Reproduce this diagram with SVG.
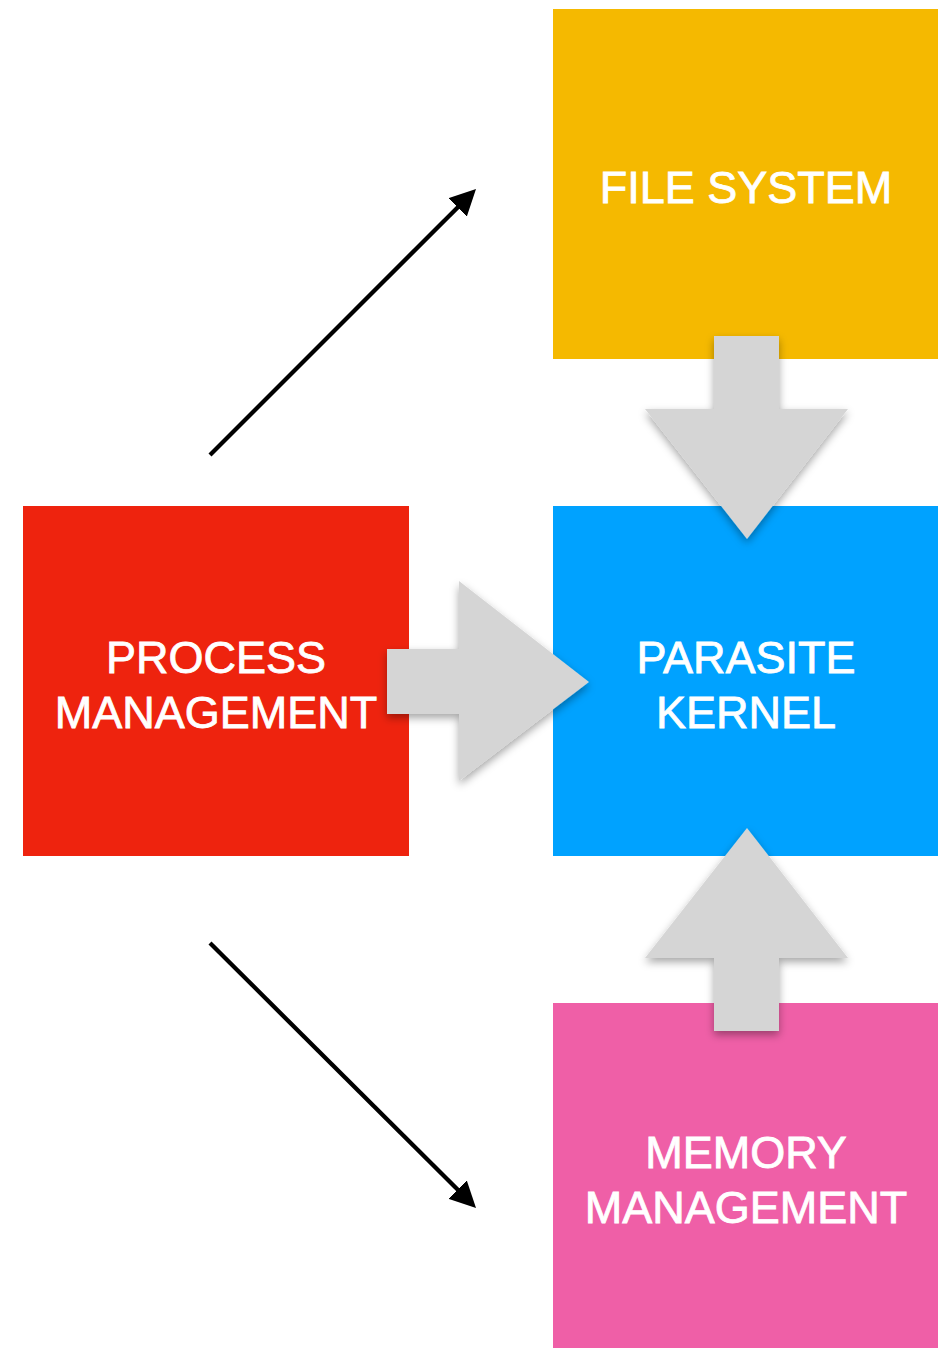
<svg xmlns="http://www.w3.org/2000/svg" width="938" height="1348" viewBox="0 0 938 1348">
  <style>
    .label { font-family: "Liberation Sans", Arial, Helvetica, sans-serif; font-size: 45px; fill: #FFFFFF; stroke: #FFFFFF; stroke-width: 0.8; text-anchor: middle; }
    .block { fill: #D5D5D5; filter: url(#shadow); }
    .line { stroke: #000000; stroke-width: 4.3; fill: none; marker-end: url(#head); }
  </style>
  <defs>
    <filter id="shadow" x="-20%" y="-20%" width="140%" height="150%">
      <feDropShadow dx="0" dy="4" stdDeviation="4" flood-color="#000000" flood-opacity="0.35"/>
    </filter>
    <marker id="head" viewBox="0 0 26 26" refX="12" refY="13" markerWidth="26" markerHeight="26" markerUnits="userSpaceOnUse" orient="auto">
      <path d="M0,0 L26,13 L0,26 Z" fill="#000000"/>
    </marker>
  </defs>
  <rect width="938" height="1348" fill="#FFFFFF"/>

  <g id="file-system">
    <rect x="553" y="9" width="385" height="350" fill="#F5B900"/>
    <text class="label" x="746" y="203">FILE SYSTEM</text>
  </g>
  <g id="process-management">
    <rect x="23" y="506" width="386" height="350" fill="#EE230E"/>
    <text class="label" x="216" y="673">PROCESS</text>
    <text class="label" x="216" y="728">MANAGEMENT</text>
  </g>
  <g id="parasite-kernel">
    <rect x="553" y="506" width="385" height="350" fill="#00A2FF"/>
    <text class="label" x="746" y="673">PARASITE</text>
    <text class="label" x="746" y="728">KERNEL</text>
  </g>
  <g id="memory-management">
    <rect x="553" y="1003" width="385" height="345" fill="#EF5FA7"/>
    <text class="label" x="746" y="1168">MEMORY</text>
    <text class="label" x="746" y="1223">MANAGEMENT</text>
  </g>

  <g id="connectors">
    <polygon class="block" points="387,649 459,649 459,581 589,682 459,781 459,714 387,714"/>
    <polygon class="block" points="714,336 779,336 779,409 848,409 747,539 645,409 714,409"/>
    <polygon class="block" points="747,828 848,958 779,958 779,1031 714,1031 714,958 645,958"/>
    <line class="line" x1="210" y1="455" x2="466.1" y2="198.9"/>
    <line class="line" x1="210" y1="943" x2="466.1" y2="1198.1"/>
  </g>
</svg>
